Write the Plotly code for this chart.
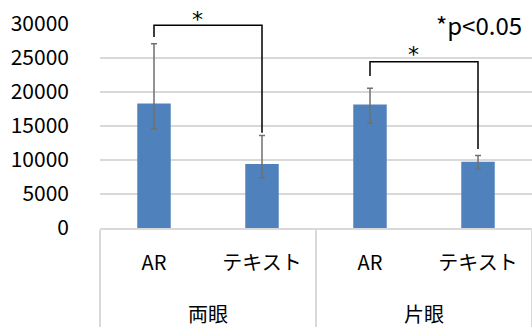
import plotly.graph_objects as go

groups = ["両眼", "両眼", "片眼", "片眼"]
conditions = ["AR", "テキスト", "AR", "テキスト"]
values = [18300, 9400, 18150, 9750]
err_plus = [8800, 4200, 2400, 900]
err_minus = [3700, 2000, 2700, 1100]
y_ticks = [0, 5000, 10000, 15000, 20000, 25000, 30000]
y_tick_text = ["0", "5000", "10000", "15000", "20000", "25000", "30000"]

# significance brackets: (left index, right index, left foot, right foot, top)
brackets = [(0, 1, 28100, 14000, 29800), (2, 3, 22350, 11600, 24450)]
sig_labels = ["*", "*"]
note = "*p<0.05"

FONT = "Noto Sans CJK JP"
BLUE = "#4F81BD"

# pixel geometry helpers (plot area: top 24, bottom 228)
PLOT_TOP, PLOT_BOTTOM = 24, 228


def paper_y(px):
    return (PLOT_BOTTOM - px) / (PLOT_BOTTOM - PLOT_TOP)


inner_labels = [c + "<br><span style='font-size:46px'> </span>" for c in conditions]

fig = go.Figure()
fig.add_trace(go.Bar(
    x=[groups, inner_labels], y=values,
    marker=dict(color=BLUE, line=dict(width=0)),
    width=0.31,
    error_y=dict(type="data", symmetric=False, array=err_plus, arrayminus=err_minus,
                 color="#707070", thickness=1.5, width=3),
    showlegend=False,
))
# invisible overlay linear axis for brackets
fig.add_trace(go.Scatter(x=[-0.5, 3.5], y=[0, 0], xaxis="x2", mode="markers",
                         marker=dict(opacity=0), showlegend=False, hoverinfo="skip"))

star_y = [19, 54]
for (i0, i1, y0, y1, top), lab, sy in zip(brackets, sig_labels, star_y):
    fig.add_trace(go.Scatter(
        x=[i0, i0, i1, i1], y=[y0, top, top, y1], xaxis="x2", mode="lines",
        line=dict(color="black", width=1.5), showlegend=False, hoverinfo="skip"))
    fig.add_annotation(x=i0 + 0.4, y=paper_y(sy), xref="x2", yref="paper", text=lab,
                       showarrow=False, yanchor="middle",
                       font=dict(family="DejaVu Sans", size=22, color="black"))

fig.add_annotation(x=(524 - 100) / 432, y=paper_y(24), xref="paper", yref="paper", text=note,
                   showarrow=False, xanchor="right", yanchor="middle",
                   font=dict(family=FONT, size=24, color="black"))

fig.update_layout(
    width=532, height=327,
    margin=dict(l=100, r=0, t=24, b=99),
    paper_bgcolor="white", plot_bgcolor="white",
    font=dict(family=FONT, size=20, color="black"),
    bargap=0.69,
    xaxis=dict(type="multicategory", showgrid=False, showline=True,
               linecolor="#D9D9D9", linewidth=1.5,
               showdividers=True, dividercolor="#D9D9D9", dividerwidth=1.5,
               ticks="", ticklabelstandoff=16,
               tickfont=dict(family=FONT, size=20)),
    xaxis2=dict(overlaying="x", range=[-0.5, 3.5], visible=False),
    yaxis=dict(range=[0, 30000], tickvals=y_ticks, ticktext=y_tick_text, showgrid=True,
               gridcolor="#D9D9D9", gridwidth=1.5, zeroline=False,
               ticks="", ticklabelstandoff=30,
               tickfont=dict(family=FONT, size=21)),
)
fig.write_html("out.html")
